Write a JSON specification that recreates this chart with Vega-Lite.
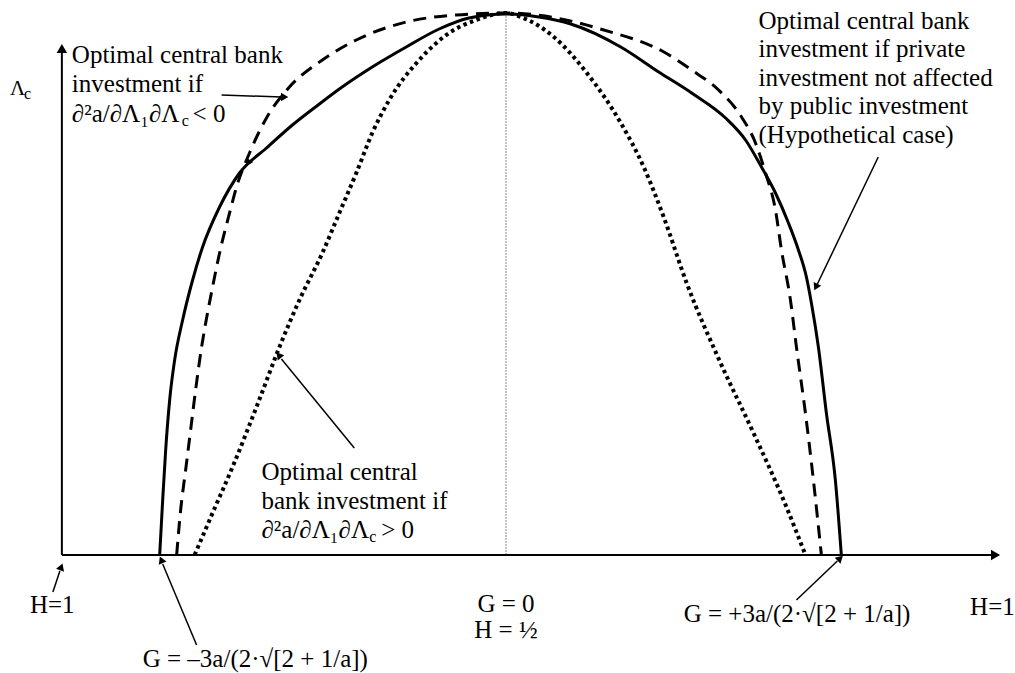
{
  "$schema": "https://vega.github.io/schema/vega-lite/v6.json",
  "width": 1015,
  "height": 673,
  "autosize": {"type": "fit", "contains": "padding"},
  "padding": 0,
  "background": "white",
  "config": {"view": {"stroke": null}},
  "datasets": {
    "solid": [
      {"x": -3.47, "y": 0}, {"x": -3.44, "y": 0.55}, {"x": -3.41, "y": 1.05}, {"x": -3.37, "y": 1.55},
      {"x": -3.32, "y": 1.95}, {"x": -3.24, "y": 2.35}, {"x": -3.14, "y": 2.75}, {"x": -3.04, "y": 3.08},
      {"x": -2.87, "y": 3.48}, {"x": -2.67, "y": 3.82}, {"x": -2.40, "y": 4.07}, {"x": -2.14, "y": 4.30},
      {"x": -1.87, "y": 4.51}, {"x": -1.67, "y": 4.66}, {"x": -1.34, "y": 4.88}, {"x": -1.00, "y": 5.08},
      {"x": -0.67, "y": 5.26}, {"x": -0.37, "y": 5.37}, {"x": 0, "y": 5.41},
      {"x": 0.33, "y": 5.38}, {"x": 0.65, "y": 5.31}, {"x": 1.15, "y": 5.08}, {"x": 1.53, "y": 4.83},
      {"x": 1.86, "y": 4.62}, {"x": 2.20, "y": 4.37}, {"x": 2.40, "y": 4.15}, {"x": 2.56, "y": 3.88},
      {"x": 2.70, "y": 3.62}, {"x": 2.83, "y": 3.32}, {"x": 2.93, "y": 3.05}, {"x": 3.01, "y": 2.78},
      {"x": 3.06, "y": 2.52}, {"x": 3.13, "y": 2.08}, {"x": 3.21, "y": 1.42}, {"x": 3.30, "y": 0.75},
      {"x": 3.36, "y": 0}
    ],
    "dashed": [
      {"x": -3.30, "y": 0}, {"x": -3.26, "y": 0.45}, {"x": -3.21, "y": 0.85}, {"x": -3.16, "y": 1.25},
      {"x": -3.11, "y": 1.65}, {"x": -3.05, "y": 2.08}, {"x": -3.00, "y": 2.37}, {"x": -2.94, "y": 2.68},
      {"x": -2.87, "y": 3.02}, {"x": -2.77, "y": 3.42}, {"x": -2.70, "y": 3.68}, {"x": -2.57, "y": 4.02},
      {"x": -2.40, "y": 4.37}, {"x": -2.17, "y": 4.68}, {"x": -1.84, "y": 4.95}, {"x": -1.50, "y": 5.15},
      {"x": -1.00, "y": 5.33}, {"x": -0.50, "y": 5.40}, {"x": 0, "y": 5.42}, {"x": 0.31, "y": 5.40},
      {"x": 0.98, "y": 5.25}, {"x": 1.60, "y": 5.02}, {"x": 1.86, "y": 4.85}, {"x": 2.13, "y": 4.65},
      {"x": 2.36, "y": 4.38}, {"x": 2.50, "y": 4.12}, {"x": 2.60, "y": 3.82}, {"x": 2.70, "y": 3.45},
      {"x": 2.76, "y": 3.05}, {"x": 2.85, "y": 2.55}, {"x": 2.91, "y": 2.08}, {"x": 3.00, "y": 1.42},
      {"x": 3.08, "y": 0.75}, {"x": 3.16, "y": 0}
    ],
    "dotted": [
      {"x": -3.12, "y": 0}, {"x": -2.94, "y": 0.42}, {"x": -2.74, "y": 0.88}, {"x": -2.50, "y": 1.48},
      {"x": -2.27, "y": 2.08}, {"x": -2.07, "y": 2.55}, {"x": -1.84, "y": 3.02}, {"x": -1.67, "y": 3.42},
      {"x": -1.50, "y": 3.82}, {"x": -1.34, "y": 4.22}, {"x": -1.17, "y": 4.55}, {"x": -0.87, "y": 4.95},
      {"x": -0.57, "y": 5.22}, {"x": -0.30, "y": 5.35}, {"x": 0, "y": 5.42}, {"x": 0.15, "y": 5.38},
      {"x": 0.48, "y": 5.18}, {"x": 0.81, "y": 4.82}, {"x": 1.15, "y": 4.32}, {"x": 1.38, "y": 3.88},
      {"x": 1.58, "y": 3.38}, {"x": 1.81, "y": 2.72}, {"x": 2.15, "y": 1.92}, {"x": 2.48, "y": 1.22},
      {"x": 2.81, "y": 0.48}, {"x": 3.00, "y": 0}
    ],
    "axes": [
      {"x": -4.45, "y": 0, "x2": 4.88, "y2": 0},
      {"x": -4.45, "y": 0, "x2": -4.45, "y2": 5.02}
    ],
    "axisHeads": [
      {"x": 4.89, "y": 0, "angle": 90},
      {"x": -4.45, "y": 5.05, "angle": 0}
    ],
    "center": [
      {"x": 0, "y": 0, "x2": 0, "y2": 5.42}
    ],
    "arrows": [
      {"x": -2.85, "y": 4.60, "x2": -2.25, "y2": 4.58},
      {"x": -1.52, "y": 1.07, "x2": -2.25, "y2": 1.96},
      {"x": 3.73, "y": 3.98, "x2": 3.12, "y2": 2.71},
      {"x": -4.54, "y": -0.37, "x2": -4.47, "y2": -0.16},
      {"x": -3.10, "y": -0.90, "x2": -3.44, "y2": -0.09},
      {"x": 2.91, "y": -0.45, "x2": 3.32, "y2": -0.06}
    ],
    "heads": [
      {"x": -2.23, "y": 4.58, "angle": 90},
      {"x": -2.27, "y": 1.99, "angle": 320},
      {"x": 3.11, "y": 2.69, "angle": 206},
      {"x": -4.46, "y": -0.13, "angle": 20},
      {"x": -3.45, "y": -0.06, "angle": 337},
      {"x": 3.34, "y": -0.04, "angle": 46},
      {"x": -2.58, "y": 3.93, "angle": 210}
    ],
    "labels": [
      {"x": -4.35, "y": 4.92, "t": "Optimal central bank"},
      {"x": -4.35, "y": 4.63, "t": "investment if"},
      {"x": -4.35, "y": 4.33, "t": "∂²a/∂Λ₁∂Λ"},
      {"x": -3.14, "y": 4.33, "t": "< 0"},
      {"x": -2.45, "y": 0.75, "t": "Optimal central"},
      {"x": -2.45, "y": 0.46, "t": "bank investment if"},
      {"x": -2.45, "y": 0.17, "t": "∂²a/∂Λ₁∂Λ"},
      {"x": -1.25, "y": 0.17, "t": "> 0"},
      {"x": 2.53, "y": 5.26, "t": "Optimal central bank"},
      {"x": 2.53, "y": 4.98, "t": "investment if private"},
      {"x": 2.53, "y": 4.69, "t": "investment not affected"},
      {"x": 2.53, "y": 4.41, "t": "by public investment"},
      {"x": 2.53, "y": 4.12, "t": "(Hypothetical case)"},
      {"x": -4.77, "y": -0.58, "t": "H=1"},
      {"x": -3.64, "y": -1.12, "t": "G = –3a/(2·√[2 + 1/a])"},
      {"x": 1.78, "y": -0.67, "t": "G = +3a/(2·√[2 + 1/a])"},
      {"x": 4.65, "y": -0.60, "t": "H=1"}
    ],
    "bigLambda": [
      {"x": -4.97, "y": 4.60, "t": "Λ"}
    ],
    "centerLabels": [
      {"x": 0, "y": -0.57, "t": "G = 0"},
      {"x": 0, "y": -0.83, "t": "H = ½"}
    ],
    "subs": [
      {"x": -3.25, "y": 4.29, "t": "c"},
      {"x": -1.37, "y": 0.13, "t": "c"},
      {"x": -4.83, "y": 4.56, "t": "c"}
    ]
  },
  "encoding": {
    "x": {"field": "x", "type": "quantitative", "scale": {"domain": [-5.07, 5.08], "nice": false, "zero": false}, "axis": null},
    "y": {"field": "y", "type": "quantitative", "scale": {"domain": [-1.18, 5.55], "nice": false, "zero": false}, "axis": null}
  },
  "layer": [
    {
      "data": {"name": "center"},
      "mark": {"type": "rule", "color": "#888888", "strokeWidth": 1, "strokeDash": [2, 1]},
      "encoding": {"x2": {"field": "x2"}, "y2": {"field": "y2"}}
    },
    {
      "data": {"name": "axes"},
      "mark": {"type": "rule", "color": "black", "strokeWidth": 2},
      "encoding": {"x2": {"field": "x2"}, "y2": {"field": "y2"}}
    },
    {
      "data": {"name": "axisHeads"},
      "mark": {"type": "point", "shape": "triangle", "filled": true, "color": "black", "size": 110, "opacity": 1},
      "encoding": {"angle": {"field": "angle", "type": "quantitative", "scale": null}}
    },
    {
      "data": {"name": "dotted"},
      "mark": {"type": "line", "color": "black", "strokeWidth": 4, "strokeDash": [3.5, 3.5], "strokeCap": "butt", "interpolate": "monotone"},
      "encoding": {}
    },
    {
      "data": {"name": "dashed"},
      "mark": {"type": "line", "color": "black", "strokeWidth": 3, "strokeDash": [13, 8], "strokeCap": "butt", "interpolate": "monotone"},
      "encoding": {}
    },
    {
      "data": {"name": "solid"},
      "mark": {"type": "line", "color": "black", "strokeWidth": 3, "interpolate": "monotone"},
      "encoding": {}
    },
    {
      "data": {"name": "arrows"},
      "mark": {"type": "rule", "color": "black", "strokeWidth": 1.5},
      "encoding": {"x2": {"field": "x2"}, "y2": {"field": "y2"}}
    },
    {
      "data": {"name": "heads"},
      "mark": {"type": "point", "shape": "triangle", "filled": true, "color": "black", "size": 70, "opacity": 1},
      "encoding": {"angle": {"field": "angle", "type": "quantitative", "scale": null}}
    },
    {
      "data": {"name": "labels"},
      "mark": {"type": "text", "font": "Liberation Serif", "fontSize": 25, "align": "left", "baseline": "alphabetic", "color": "black"},
      "encoding": {"text": {"field": "t"}}
    },
    {
      "data": {"name": "bigLambda"},
      "mark": {"type": "text", "font": "Liberation Serif", "fontSize": 21, "align": "left", "baseline": "alphabetic", "color": "black"},
      "encoding": {"text": {"field": "t"}}
    },
    {
      "data": {"name": "centerLabels"},
      "mark": {"type": "text", "font": "Liberation Serif", "fontSize": 25, "align": "center", "baseline": "alphabetic", "color": "black"},
      "encoding": {"text": {"field": "t"}}
    },
    {
      "data": {"name": "subs"},
      "mark": {"type": "text", "font": "Liberation Serif", "fontSize": 16, "align": "left", "baseline": "alphabetic", "color": "black"},
      "encoding": {"text": {"field": "t"}}
    }
  ]
}
